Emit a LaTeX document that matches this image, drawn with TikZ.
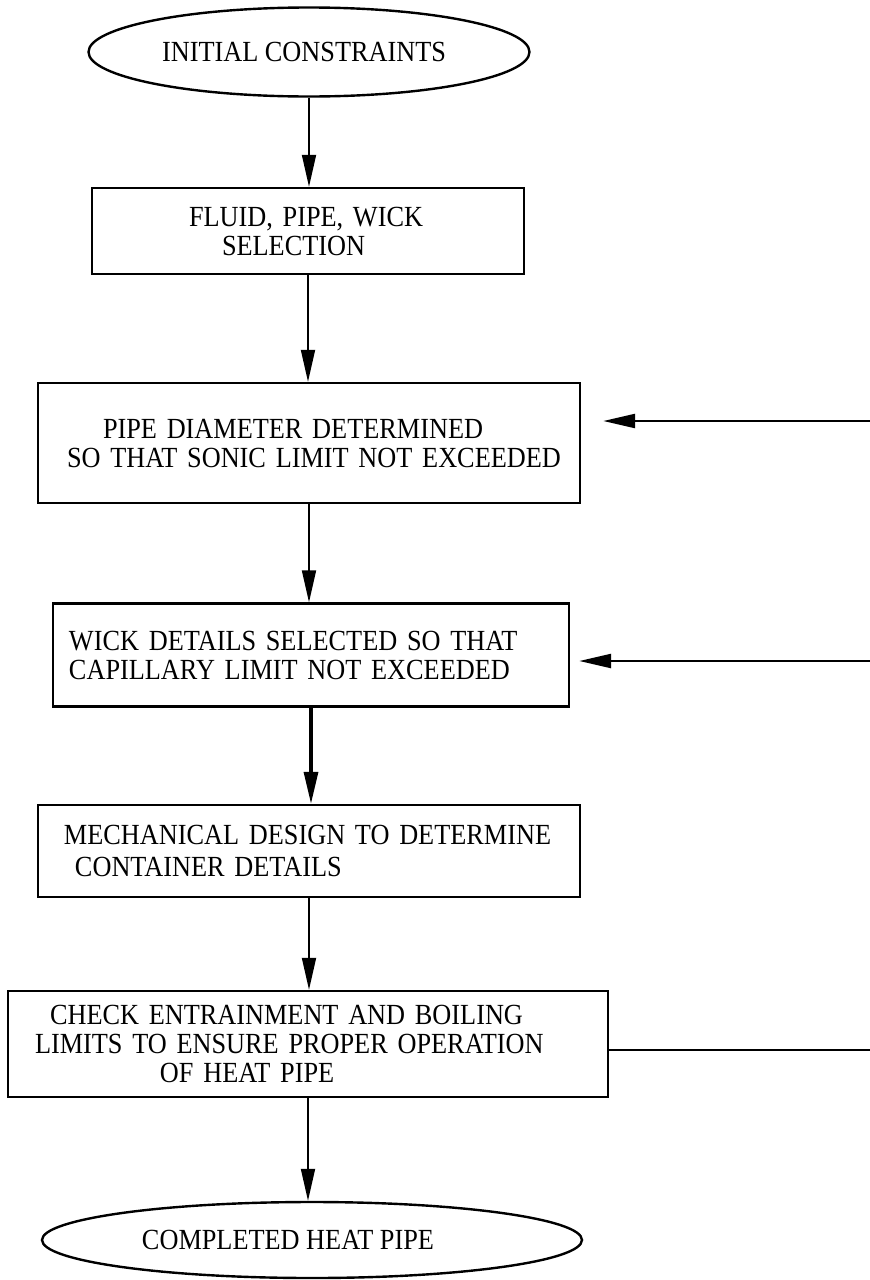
\documentclass[tikz,border=0pt]{standalone}
\usepackage{fontspec}
\setmainfont{Liberation Serif}[FakeStretch=0.9]
\usetikzlibrary{shapes.geometric,arrows.meta}
\begin{document}
\begin{tikzpicture}[x=0.5pt,y=-0.5pt,
  every node/.style={font=\fontsize{14.6}{14.5}\selectfont},
  oval/.style={draw,ellipse,line width=1.2pt,inner sep=0pt},
  stage/.style={draw,rectangle,line width=1.2pt,inner xsep=0pt,align=left},
  flow/.style={line width=0.9pt,-{Triangle[length=16pt,width=7pt]}},
  feed/.style={line width=1.2pt}]
\useasboundingbox (0,0) rectangle (870,1280);
\node[oval,minimum width=220.5pt,minimum height=44.5pt] (start) at (309,52) {INITIAL CONSTRAINTS\hspace*{5pt}};
\node[stage,minimum height=43pt,text width=216pt] (fluid) at (308,231) {\hspace*{48.5pt}FLUID, PIPE, WICK\\\hspace*{65pt}SELECTION};
\node[stage,minimum height=60pt,text width=271pt] (pipe) at (309,443) {\hspace*{32.5pt}PIPE DIAMETER DETERMINED\\\hspace*{14.5pt}SO THAT SONIC LIMIT NOT EXCEEDED};
\node[stage,minimum height=51.5pt,text width=258pt] (wick) at (311,655) {\hspace*{8pt}WICK DETAILS SELECTED SO THAT\\\hspace*{8pt}CAPILLARY LIMIT NOT EXCEEDED};
\node[stage,minimum height=46pt,text width=271pt,font=\fontsize{14.6}{16}\selectfont] (mech) at (309,851) {\hspace*{13pt}MECHANICAL DESIGN TO DETERMINE\\\hspace*{18.5pt}CONTAINER DETAILS};
\node[stage,minimum height=53pt,text width=300pt] (check) at (308,1044) {\hspace*{21pt}CHECK ENTRAINMENT AND BOILING\\\hspace*{13.5pt}LIMITS TO ENSURE PROPER OPERATION\\\hspace*{76pt}OF HEAT PIPE};
\node[oval,minimum width=270pt,minimum height=38pt] (done) at (312,1240) {COMPLETED HEAT PIPE\hspace*{24pt}};
\draw[flow] (start.south) -- (start.south |- fluid.north);
\draw[flow] (fluid.south) -- (fluid.south |- pipe.north);
\draw[flow] (pipe.south) -- (pipe.south |- wick.north);
\draw[flow,line width=1.6pt] (wick.south) -- (wick.south |- mech.north);
\draw[flow] (mech.south) -- (mech.south |- check.north);
\draw[flow] (check.south) -- (check.south |- done.north);
% feedback lines leave the picture on the right
\coordinate (inB) at (870,421);
\coordinate (inC) at (870,661);
\coordinate (outE) at (870,1050);
\draw[flow,line width=1.2pt,shorten >=11pt] (inB) -- (pipe.east |- inB);
\draw[flow,line width=1.2pt,shorten >=4.5pt] (inC) -- (wick.east |- inC);
\draw[feed] (check.east |- outE) -- (outE);
\end{tikzpicture}
\end{document}
